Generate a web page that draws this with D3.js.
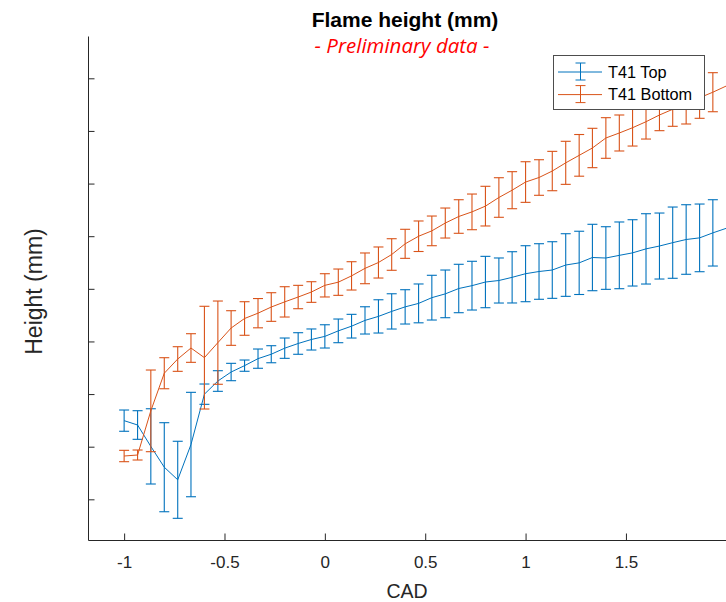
<!DOCTYPE html>
<html lang="en">
<head>
    <meta charset="UTF-8">
    <title>Flame height</title>
    <script src="https://cdn.jsdelivr.net/npm/d3@7/dist/d3.min.js"></script>
    <style>
        body { margin: 0; background: #fff; }
        text { font-family: "Liberation Sans", Arial, sans-serif; }
    </style>
</head>
<body>
<script>
    // canvas
    const width = 726;
    const height = 602;

    // CAD positions of the samples
    const cad = [-1.000, -0.933, -0.867, -0.800, -0.733, -0.667, -0.600, -0.533, -0.467, -0.400,
        -0.333, -0.267, -0.200, -0.133, -0.067, 0.000, 0.067, 0.133, 0.200, 0.267,
        0.333, 0.400, 0.467, 0.533, 0.600, 0.667, 0.733, 0.800, 0.867, 0.933,
        1.000, 1.067, 1.133, 1.200, 1.267, 1.333, 1.400, 1.467, 1.533, 1.600,
        1.667, 1.733, 1.800, 1.867, 1.933, 2.000];

    // T41 Top
    const topMean = [24.95, 24.12, 20.06, 16.10, 13.71, 20.41, 29.98, 32.48, 34.19, 35.40,
        36.73, 37.57, 38.72, 39.61, 40.37, 40.96, 42.01, 42.90, 44.00, 44.76,
        45.71, 46.57, 47.23, 48.32, 49.04, 50.06, 50.60, 51.29, 51.58, 52.18,
        52.87, 53.29, 53.57, 54.52, 54.93, 55.95, 55.85, 56.36, 56.83, 57.59,
        58.13, 58.77, 59.37, 59.68, 60.63, 61.50];
    const topErr = [2.02, 2.72, 7.15, 8.46, 7.32, 9.92, 1.93, 1.96, 1.65, 1.07,
        1.83, 1.62, 1.93, 2.05, 2.00, 2.21, 2.25, 2.25, 2.59, 3.16,
        3.35, 3.26, 3.69, 4.25, 4.53, 4.60, 4.63, 4.88, 4.28, 4.87,
        5.32, 5.28, 5.38, 5.95, 6.01, 6.31, 5.95, 6.34, 6.30, 6.68,
        6.27, 6.77, 6.61, 6.43, 6.30, 6.40];

    // T41 Bottom
    const botMean = [18.23, 18.42, 26.81, 33.96, 36.66, 38.75, 36.92, 39.77, 42.55, 44.36,
        45.37, 46.54, 47.52, 48.44, 49.39, 50.66, 51.26, 52.46, 53.89, 55.00,
        56.52, 58.55, 59.99, 61.01, 62.50, 63.74, 64.62, 65.71, 67.35, 68.74,
        70.29, 71.15, 72.38, 73.94, 75.36, 76.76, 78.66, 79.61, 80.61, 81.75,
        83.03, 84.11, 85.25, 86.31, 87.36, 88.54];
    const botErr = [1.08, 0.95, 7.76, 2.95, 2.34, 2.72, 9.76, 7.91, 3.29, 3.19,
        2.78, 2.72, 2.88, 2.22, 1.96, 2.21, 2.50, 2.69, 2.92, 2.95,
        3.00, 2.76, 2.90, 2.82, 2.85, 3.19, 3.39, 3.77, 3.76, 3.52,
        3.86, 3.38, 3.74, 4.09, 3.96, 3.74, 3.86, 3.42, 3.48, 3.29,
        2.98, 3.23, 3.93, 3.91, 3.71, 3.80];

    const seriesNames = ['T41 Top', 'T41 Bottom'];
    const xTicks = [-1, -0.5, 0, 0.5, 1, 1.5];
    const yTicks = [10, 20, 30, 40, 50, 60, 70, 80, 90];

    const colors = ['#0072BD', '#D95319'];
    const axisColor = '#262626';

    let svg = d3.select('body')
        .append('svg')
        .attr('width', width)
        .attr('height', height)
        .style('background', '#fff');

    // scales
    let x = d3.scaleLinear().domain([-1.18, 2]).range([88, 726.3]);
    let y = d3.scaleLinear().domain([2.27, 98.04]).range([540, 36]);

    // the figure is cut at the right edge: error bars past it are hidden
    svg.append('clipPath').attr('id', 'barclip')
        .append('rect')
        .attr('x', 80).attr('y', 0).attr('width', 640).attr('height', height);

    // axes, ticks point inward like MATLAB
    let xAxis = svg.append('g')
        .attr('transform', 'translate(0,540)')
        .call(d3.axisBottom(x).tickValues(xTicks).tickSize(-6.5).tickSizeOuter(0)
            .tickPadding(16).tickFormat(d => String(d)));
    xAxis.selectAll('text').style('font-size', '17px').attr('fill', axisColor);

    let yAxis = svg.append('g')
        .attr('transform', 'translate(88,0)')
        .call(d3.axisLeft(y).tickValues(yTicks).tickSize(-6.5).tickSizeOuter(0).tickFormat(''));

    svg.selectAll('.domain, .tick line').attr('stroke', axisColor);

    // axis labels
    svg.append('text')
        .attr('x', 407).attr('y', 598)
        .attr('text-anchor', 'middle')
        .style('font-size', '19.5px')
        .attr('fill', axisColor)
        .text('CAD');

    svg.append('text')
        .attr('transform', 'translate(42,291.5) rotate(-90)')
        .attr('text-anchor', 'middle')
        .style('font-size', '23px')
        .attr('fill', axisColor)
        .text('Height (mm)');

    // titles
    svg.append('text')
        .attr('x', 405).attr('y', 27)
        .attr('text-anchor', 'middle')
        .style('font-size', '21px')
        .style('font-weight', 'bold')
        .attr('fill', '#000')
        .text('Flame height (mm)');

    svg.append('text')
        .attr('x', 402).attr('y', 53)
        .attr('text-anchor', 'middle')
        .style('font-family', '"Open Sans", sans-serif')
        .style('font-size', '20.5px')
        .style('font-style', 'italic')
        .attr('fill', '#FF0000')
        .text('- Preliminary data -');

    // series
    const series = [
        { mean: topMean, err: topErr },
        { mean: botMean, err: botErr }
    ];

    const cap = 5;
    let line = d3.line().x(d => x(d.cad)).y(d => y(d.mean));

    series.forEach((s, k) => {
        let pts = cad.map((c, i) => ({ cad: c, mean: s.mean[i], err: s.err[i] }));
        let g = svg.append('g').attr('stroke', colors[k]).attr('fill', 'none');

        let bars = g.append('g')
            .attr('clip-path', 'url(#barclip)')
            .selectAll('g.bar')
            .data(pts)
            .enter()
            .append('g')
            .attr('class', 'bar');

        bars.append('line')
            .attr('x1', d => x(d.cad)).attr('x2', d => x(d.cad))
            .attr('y1', d => y(d.mean + d.err)).attr('y2', d => y(d.mean - d.err))
            .attr('stroke-width', 1.1);
        bars.append('line')
            .attr('x1', d => x(d.cad) - cap).attr('x2', d => x(d.cad) + cap)
            .attr('y1', d => y(d.mean + d.err)).attr('y2', d => y(d.mean + d.err))
            .attr('stroke-width', 1.1);
        bars.append('line')
            .attr('x1', d => x(d.cad) - cap).attr('x2', d => x(d.cad) + cap)
            .attr('y1', d => y(d.mean - d.err)).attr('y2', d => y(d.mean - d.err))
            .attr('stroke-width', 1.1);

        g.append('path')
            .attr('d', line(pts))
            .attr('stroke-width', 1);
    });

    // legend
    let legend = svg.append('g');
    legend.append('rect')
        .attr('x', 553.5).attr('y', 55.5)
        .attr('width', 151).attr('height', 54)
        .attr('fill', '#fff')
        .attr('stroke', '#4d4d4d')
        .attr('stroke-width', 1);

    let items = legend.selectAll('g.item')
        .data(seriesNames)
        .enter()
        .append('g')
        .attr('class', 'item')
        .attr('transform', (d, i) => `translate(0,${72 + i * 22.6})`);

    items.append('line')
        .attr('x1', 558).attr('x2', 602).attr('y1', 0).attr('y2', 0)
        .attr('stroke', (d, i) => colors[i]);
    items.append('line')
        .attr('x1', 580.5).attr('x2', 580.5).attr('y1', -9).attr('y2', 8)
        .attr('stroke', (d, i) => colors[i]);
    items.append('line')
        .attr('x1', 575.5).attr('x2', 585.5).attr('y1', -9).attr('y2', -9)
        .attr('stroke', (d, i) => colors[i]);
    items.append('line')
        .attr('x1', 575.5).attr('x2', 585.5).attr('y1', 8).attr('y2', 8)
        .attr('stroke', (d, i) => colors[i]);
    items.append('text')
        .attr('x', 608).attr('y', 5.8)
        .style('font-size', '16.3px')
        .attr('fill', '#000')
        .text(d => d);
</script>
</body>
</html>
